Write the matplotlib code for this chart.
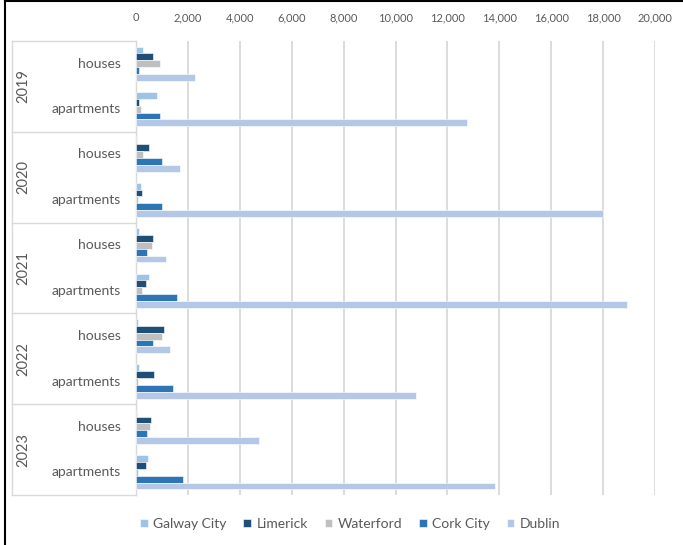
import numpy as np
import matplotlib
matplotlib.use('Agg')
import matplotlib.pyplot as plt
from matplotlib.lines import Line2D
from matplotlib.ticker import FuncFormatter
import matplotlib.transforms as mtrans

plt.rcParams['font.family'] = ['Lato', 'DejaVu Sans']

years = ['2019', '2020', '2021', '2022', '2023']
types = ['houses', 'apartments']
series = ['Galway City', 'Limerick', 'Waterford', 'Cork City', 'Dublin']
colors = ['#9DC3E6', '#1F4E79', '#BFBFBF', '#2E75B6', '#B4C7E7']

# order: 2019 houses, 2019 apartments, 2020 houses, ...
galway    = [260, 800, 50, 190, 100, 490, 90, 115, 25, 450]
limerick  = [670, 130, 510, 230, 640, 370, 1070, 690, 590, 400]
waterford = [940, 190, 260, 90, 620, 220, 990, 90, 530, 90]
cork      = [100, 910, 1020, 990, 440, 1590, 670, 1410, 420, 1820]
dublin    = [2270, 12760, 1700, 18000, 1170, 18920, 1320, 10790, 4740, 13840]
values = [galway, limerick, waterford, cork, dublin]

W, H = 683, 545
fig = plt.figure(figsize=(W/100, H/100), dpi=100)
ax = fig.add_axes([136/W, 1-495/H, (655-136)/W, (495-41)/H])

ncat = len(years)*len(types)
y = np.arange(ncat)
bh = 0.15
for i, (name, vals, c) in enumerate(zip(series, values, colors)):
	ax.barh(y + (i-2)*bh, vals, height=bh, color=c, label=name,
		edgecolor='white', linewidth=0.4, zorder=3)

ax.set_ylim(ncat-0.5, -0.5)
ax.set_xlim(0, 20000)
ax.set_xticks(np.arange(0, 20001, 2000))
ax.xaxis.set_major_formatter(FuncFormatter(lambda v, p: f'{int(v):,}'))
ax.xaxis.tick_top()
ax.tick_params(axis='x', length=0, pad=13, labelsize=8, labelcolor='#595959')
ax.set_yticks([])
ax.grid(axis='x', color='#D9D9D9', linewidth=1.3, zorder=0)
for s in ['top', 'right', 'bottom']:
	ax.spines[s].set_visible(False)
ax.spines['left'].set_color('#D9D9D9')
ax.spines['left'].set_linewidth(1.0)

# category labels on the left
tr = mtrans.blended_transform_factory(ax.transAxes, ax.transData)
x_box = (12-136)/(655-136)
for k in range(ncat):
	ax.text(-0.03, k, types[k % 2], transform=tr, ha='right', va='center',
		fontsize=10, color='#595959')
for j, yr in enumerate(years):
	ax.text(-0.218, 2*j+0.5, yr, transform=tr, ha='center', va='center',
		rotation=90, fontsize=10.5, color='#595959')
for b in np.arange(-0.5, ncat, 2):
	ax.add_line(Line2D([x_box, 0], [b, b], transform=tr, color='#D9D9D9',
		linewidth=1.0, clip_on=False))
ax.add_line(Line2D([x_box, x_box], [-0.5, ncat-0.5], transform=tr, color='#D9D9D9',
	linewidth=1.0, clip_on=False))

fig.legend(loc='center', bbox_to_anchor=(0.513, 1-524/H), ncol=5, frameon=False,
	fontsize=10, labelcolor='#595959', handlelength=0.55, handleheight=0.55,
	handletextpad=0.4, columnspacing=1.2)

# outer frame (left and top edges)
fig.add_artist(Line2D([5/W, 5/W], [0, 1-1/H], color='black', linewidth=1.5))
fig.add_artist(Line2D([5/W, 1], [1-1/H, 1-1/H], color='black', linewidth=1.5))

fig.savefig('out.png', dpi=100)
